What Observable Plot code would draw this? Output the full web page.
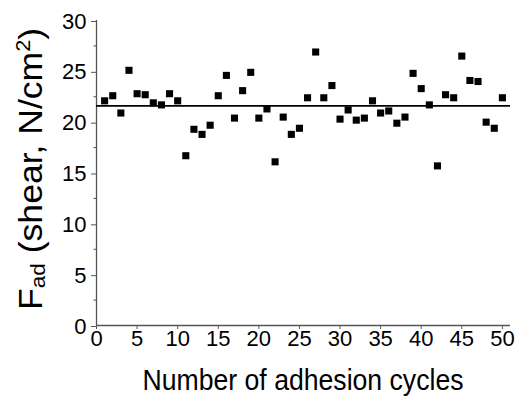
<!DOCTYPE html>
<html>
<head>
<meta charset="utf-8">
<script src="https://cdn.jsdelivr.net/npm/d3@7"></script>
<script src="https://cdn.jsdelivr.net/npm/@observablehq/plot@0.6"></script>
<style>
  html, body { margin: 0; padding: 0; background: #fff; }
  #chart svg { display: block; }
</style>
</head>
<body>
<div id="chart"></div>
<script>
// Adhesion cycle number (1..50)
const cycles = [1,2,3,4,5,6,7,8,9,10,11,12,13,14,15,16,17,18,19,20,21,22,23,24,25,
                26,27,28,29,30,31,32,33,34,35,36,37,38,39,40,41,42,43,44,45,46,47,48,49,50];
// Adhesion force (shear, N/cm²)
const force = [22.1,22.6,20.9,25.1,22.8,22.7,21.9,21.7,22.8,22.1,
               16.7,19.3,18.8,19.7,22.6,24.6,20.4,23.1,24.9,20.4,
               21.3,16.1,20.5,18.8,19.4,22.4,26.9,22.4,23.6,20.3,
               21.2,20.2,20.4,22.1,20.9,21.1,19.9,20.5,24.8,23.3,
               21.7,15.7,22.7,22.4,26.5,24.1,24.0,20.0,19.4,22.4];
const meanForce = 21.6;
const xTicks = [0,5,10,15,20,25,30,35,40,45,50];
const yTicks = [0,5,10,15,20,25,30];
const yMinorTicks = [2.5,7.5,12.5,17.5,22.5,27.5];
const xLabel = "Number of adhesion cycles";

const data = cycles.map((c, i) => ({cycle: c, force: force[i]}));

const axisColor = "#555";
const plot = Plot.plot({
  width: 518,
  height: 401,
  marginLeft: 96,
  marginRight: 8,
  marginTop: 20,
  marginBottom: 76,
  style: {fontFamily: "'Liberation Sans', Arial, sans-serif", background: "#fff", color: "#000"},
  x: {domain: [0, 51]},
  y: {domain: [0, 30]},
  marks: [
    Plot.axisY(yMinorTicks, {tickSize: 2.5, text: null, stroke: axisColor, label: null}),
    Plot.axisY(yTicks, {tickSize: 5, tickPadding: 5, fontSize: 22, stroke: axisColor, fill: "#000", label: null, dy: 1}),
    Plot.axisX(xTicks, {tickSize: 4, tickPadding: 1, fontSize: 22, stroke: axisColor, fill: "#000", label: null}),
    Plot.ruleX([0], {y1: 0, y2: 30, stroke: axisColor, strokeWidth: 1.3}),
    Plot.ruleY([0], {x1: 0, x2: 51, stroke: axisColor, strokeWidth: 1.3}),
    Plot.ruleY([meanForce], {x1: 0, x2: 51, stroke: "#000", strokeWidth: 1.8}),
    Plot.dot(data, {x: "cycle", y: "force", symbol: "square", r: 4, fill: "#000", stroke: null})
  ]
});

const svg = d3.select(plot);
// x-axis title
svg.append("text")
  .attr("x", 303).attr("y", 390)
  .attr("text-anchor", "middle")
  .attr("font-family", "'Liberation Sans', Arial, sans-serif")
  .attr("font-size", 30)
  .attr("textLength", 321)
  .attr("lengthAdjust", "spacingAndGlyphs")
  .attr("fill", "#000")
  .text(xLabel);

// y-axis title with subscript / superscript
const yt = svg.append("text")
  .attr("transform", "translate(42,169) rotate(-90)")
  .attr("text-anchor", "middle")
  .attr("font-family", "'Liberation Sans', Arial, sans-serif")
  .attr("font-size", 33)
  .attr("textLength", 282)
  .attr("lengthAdjust", "spacingAndGlyphs")
  .attr("fill", "#000");
yt.append("tspan").text("F");
yt.append("tspan").attr("font-size", 21).attr("dy", 3).text("ad");
yt.append("tspan").attr("dy", -3).text(" (shear, N/cm");
yt.append("tspan").attr("font-size", 20).attr("dy", -12).text("2");
yt.append("tspan").attr("dy", 12).text(")");

document.getElementById("chart").appendChild(plot);
</script>
</body>
</html>
